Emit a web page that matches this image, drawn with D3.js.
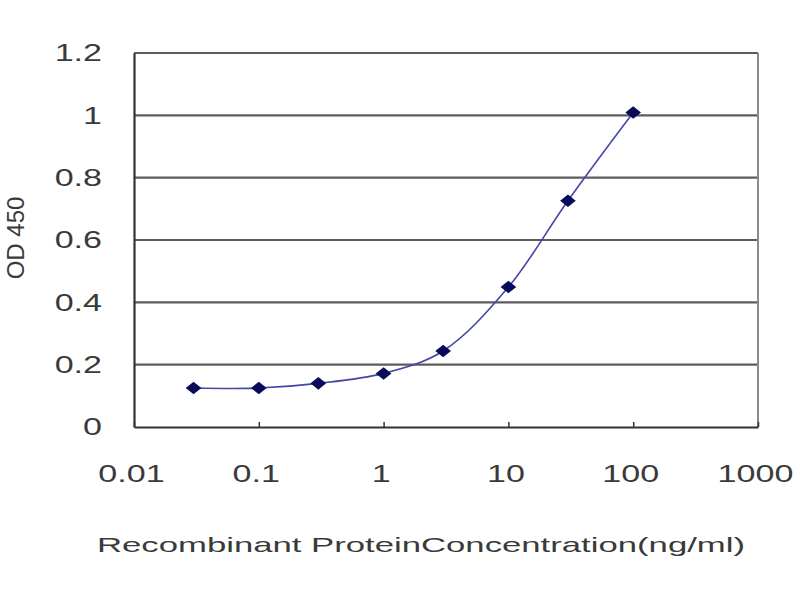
<!DOCTYPE html>
<html>
<head>
<meta charset="utf-8">
<script src="https://cdn.jsdelivr.net/npm/d3@7"></script>
<style>
  body { margin: 0; background: #fff; }
  svg { display: block; }
</style>
</head>
<body>
<svg id="chart" width="800" height="600"></svg>
<script>
// Concentrations (ng/ml) and OD 450 readings
const concentrations = [0.03, 0.1, 0.3, 1, 3, 10, 30, 100];
const odValues = [0.125, 0.125, 0.14, 0.172, 0.244, 0.449, 0.726, 1.009];
const xTicks = [0.01, 0.1, 1, 10, 100, 1000];
const yTicks = [0, 0.2, 0.4, 0.6, 0.8, 1, 1.2];

const fontFamily = "'Liberation Sans', Arial, sans-serif";
const stretch = 1.42; // the reference text is wide, so stretch it horizontally
const margin = {left: 134, top: 53, right: 42, bottom: 173};
const width = 800, height = 600;
const svg = d3.select("#chart");

const x = d3.scaleLog()
  .domain([0.01, 1000])
  .range([margin.left, width - margin.right]);
const y = d3.scaleLinear()
  .domain([0, 1.2])
  .range([height - margin.bottom, margin.top]);

// Gridlines
svg.append("g")
  .selectAll("line")
  .data(yTicks.filter(d => d > 0))
  .enter()
  .append("line")
  .attr("x1", x(0.01))
  .attr("x2", x(1000))
  .attr("y1", d => y(d))
  .attr("y2", d => y(d))
  .attr("stroke", "#5c5c5c")
  .attr("stroke-width", 2.2);

// Right border
svg.append("line")
  .attr("x1", x(1000)).attr("x2", x(1000))
  .attr("y1", y(0)).attr("y2", y(1.2))
  .attr("stroke", "#8a8a8a")
  .attr("stroke-width", 2);

// Axes
const xAxis = d3.axisBottom(x)
  .tickValues(xTicks)
  .tickSizeInner(-5)
  .tickSizeOuter(0)
  .tickFormat(d => String(d));
const gx = svg.append("g")
  .attr("transform", `translate(0,${y(0)})`)
  .call(xAxis);
gx.select(".domain").attr("stroke", "#333").attr("stroke-width", 2.2);
gx.selectAll(".tick line").attr("stroke", "#333").attr("stroke-width", 1.5);
gx.selectAll(".tick text")
  .attr("x", -3 / stretch)
  .attr("y", 55)
  .attr("dy", 0)
  .attr("transform", `scale(${stretch},1)`)
  .attr("font-family", fontFamily)
  .attr("font-size", "24px")
  .attr("fill", "#3a3a3a");

const yAxis = d3.axisLeft(y)
  .tickValues(yTicks)
  .tickSize(0)
  .tickFormat(d => String(d));
const gy = svg.append("g")
  .attr("transform", `translate(${x(0.01)},0)`)
  .call(yAxis);
gy.select(".domain").attr("stroke", "#333").attr("stroke-width", 2.2);
gy.selectAll(".tick text")
  .attr("x", -32 / stretch)
  .attr("transform", `scale(${stretch},1)`)
  .attr("font-family", fontFamily)
  .attr("font-size", "24px")
  .attr("fill", "#3a3a3a");

// Curve
const points = concentrations.map((c, i) => [c, odValues[i]]);
svg.append("path")
  .datum(points)
  .attr("fill", "none")
  .attr("stroke", "#4646a6")
  .attr("stroke-width", 1.6)
  .attr("d", d3.line()
    .x(d => x(d[0]))
    .y(d => y(d[1]))
    .curve(d3.curveCatmullRom));

// Diamond markers
svg.append("g")
  .selectAll("path")
  .data(points)
  .enter()
  .append("path")
  .attr("transform", d => `translate(${x(d[0])},${y(d[1])}) scale(1.25,1)`)
  .attr("d", d3.symbol(d3.symbolDiamond2, 100))
  .attr("fill", "#0a0a5a");

// Axis titles
svg.append("text")
  .attr("x", 97)
  .attr("y", 552)
  .attr("textLength", 648)
  .attr("lengthAdjust", "spacingAndGlyphs")
  .attr("font-family", fontFamily)
  .attr("font-size", "21px")
  .attr("fill", "#3a3a3a")
  .text("Recombinant ProteinConcentration(ng/ml)");

svg.append("text")
  .attr("transform", "translate(24,238) rotate(-90)")
  .attr("text-anchor", "middle")
  .attr("font-family", fontFamily)
  .attr("font-size", "24px")
  .attr("fill", "#3a3a3a")
  .text("OD 450");
</script>
</body>
</html>
